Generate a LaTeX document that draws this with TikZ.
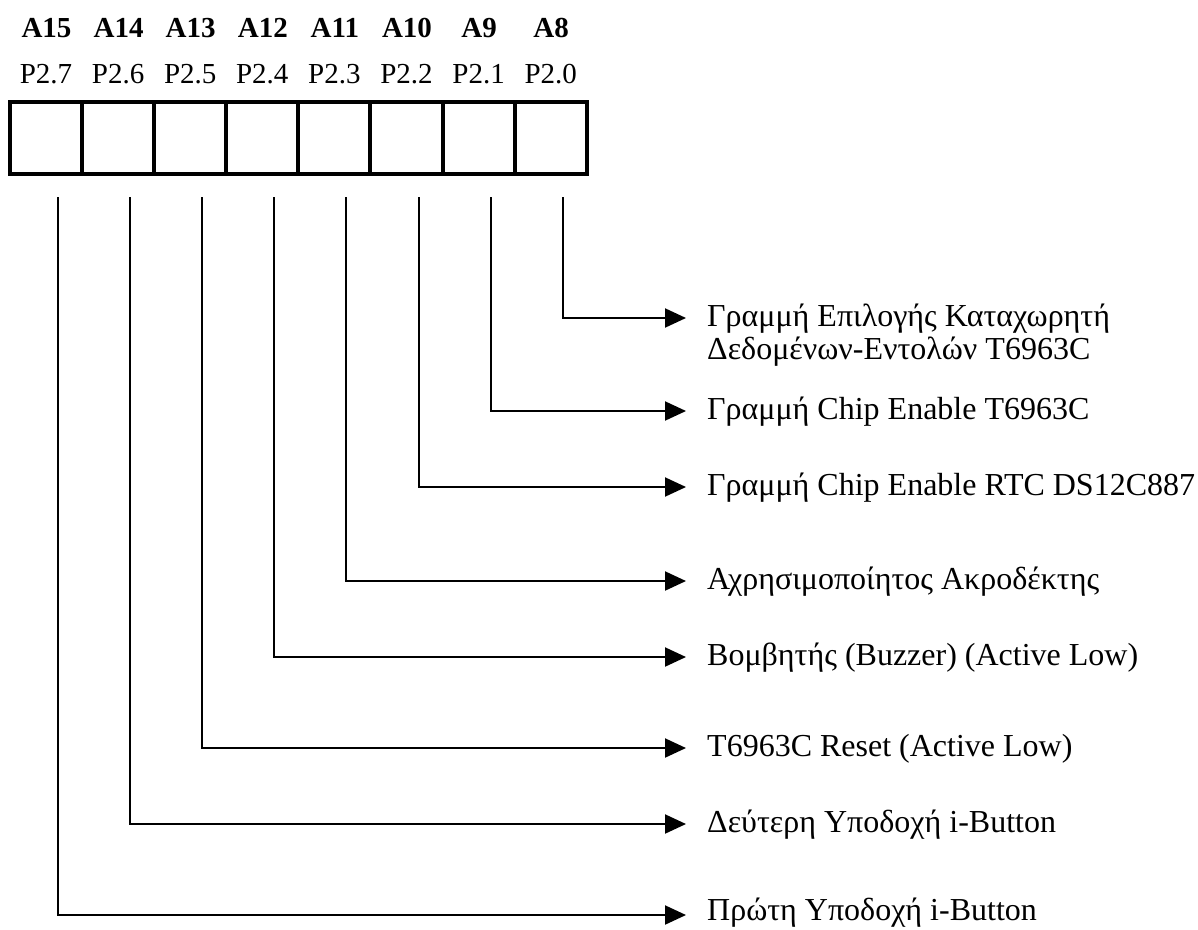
\documentclass[tikz,border=0pt]{standalone}
\usepackage{fontspec}
\setmainfont{Liberation Serif}
\usetikzlibrary{arrows.meta}
\begin{document}
\begin{tikzpicture}[x=1pt,y=-1pt,
  cell/.style={draw,line width=4pt,minimum width=72.1pt,minimum height=72pt,inner sep=0pt,outer sep=0pt},
  alabel/.style={anchor=base,inner sep=0pt,font=\fontsize{29}{33}\selectfont\bfseries},
  plabel/.style={anchor=base,inner sep=0pt,font=\fontsize{29}{33}\selectfont},
  desc/.style={anchor=base west,inner sep=0pt,font=\fontsize{32}{34}\selectfont},
  wire/.style={line width=2pt,-{Triangle[length=21pt,width=19pt]}}]
\useasboundingbox (0,0) rectangle (1198,929);
% register cells
\foreach \i/\a/\p in {0/A15/P2.7,1/A14/P2.6,2/A13/P2.5,3/A12/P2.4,4/A11/P2.3,5/A10/P2.2,6/A9/P2.1,7/A8/P2.0}{
  \node[cell] (c\i) at ({46+72.1*\i},138) {};
  \node[alabel] (a\i) at ({46.5+72.1*\i},37) {\a};
  \node[plabel] (p\i) at ({46+72.1*\i},83) {\p};
}
% line start points and arrow ends
\foreach \i/\y in {7/318,6/411,5/487,4/581,3/657,2/748,1/824,0/915}{
  \coordinate (t\i) at ({58+72.1*\i},197);
  \coordinate (e\i) at (686,\y);
}
% descriptions
\node[desc] (l7) at (707,326) {Γραμμή Επιλογής Καταχωρητή};
\node[desc] (l7b) at (707,359) {Δεδομένων-Εντολών T6963C};
\node[desc] (l6) at (707,419) {Γραμμή Chip Enable T6963C};
\node[desc] (l5) at (707,495) {Γραμμή Chip Enable RTC DS12C887};
\node[desc] (l4) at (707,589) {Αχρησιμοποίητος Ακροδέκτης};
\node[desc] (l3) at (707,665) {Βομβητής (Buzzer) (Active Low)};
\node[desc] (l2) at (707,756) {T6963C Reset (Active Low)};
\node[desc] (l1) at (707,832) {Δεύτερη Υποδοχή i-Button};
\node[desc] (l0) at (707,920) {Πρώτη Υποδοχή i-Button};
% connectors
\foreach \i in {0,...,7}{
  \draw[wire] (t\i) |- (e\i);
}
\end{tikzpicture}
\end{document}
